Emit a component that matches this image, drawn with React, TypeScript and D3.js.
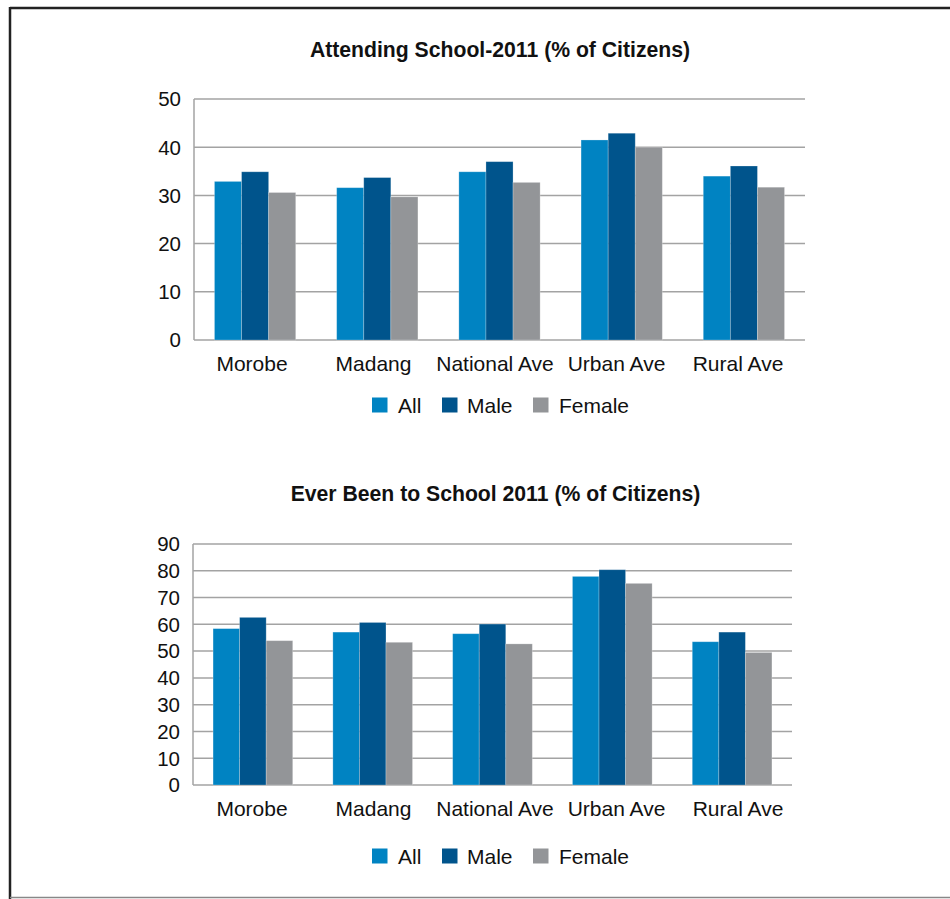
import React from "react";
import * as d3 from "d3";

const categories = ["Morobe", "Madang", "National Ave", "Urban Ave", "Rural Ave"];
const seriesNames = ["All", "Male", "Female"];
const seriesColors = ["#0083c2", "#00548c", "#939598"];

const attendingAll = [32.9, 31.6, 34.9, 41.5, 34.0];
const attendingMale = [34.9, 33.7, 37.0, 42.9, 36.1];
const attendingFemale = [30.6, 29.7, 32.7, 40.0, 31.7];
const attendingTicks = [0, 10, 20, 30, 40, 50];

const everAll = [58.4, 57.1, 56.5, 77.9, 53.5];
const everMale = [62.6, 60.7, 60.1, 80.4, 57.1];
const everFemale = [53.9, 53.3, 52.7, 75.3, 49.5];
const everTicks = [0, 10, 20, 30, 40, 50, 60, 70, 80, 90];

const FONT = "'Liberation Sans', Arial, Helvetica, sans-serif";

type PanelProps = {
  title: string;
  titleX: number;
  titleY: number;
  x0: number;
  x1: number;
  yTop: number;
  yBottom: number;
  yMax: number;
  ticks: number[];
  series: number[][];
  legendY: number;
};

function Panel(p: PanelProps) {
  const x = d3
    .scaleBand<string>()
    .domain(categories)
    .range([p.x0, p.x1])
    .paddingInner(0.335)
    .paddingOuter(0.1675);
  const xLabel = d3.scalePoint<string>().domain(categories).range([191.25, 798.75]).padding(0.5);
  const xs = d3.scaleBand<string>().domain(seriesNames).range([0, x.bandwidth()]).padding(0);
  const y = d3.scaleLinear().domain([0, p.yMax]).range([p.yBottom, p.yTop]);

  const legendItems = [
    { sq: 372, tx: 398 },
    { sq: 442, tx: 467 },
    { sq: 533, tx: 559 },
  ];

  return (
    <g>
      <text
        x={p.titleX}
        y={p.titleY}
        textAnchor="middle"
        fontFamily={FONT}
        fontWeight="bold"
        fontSize={21.2}
        fill="#111"
      >
        {p.title}
      </text>
      {p.ticks.map((t) => (
        <g key={t}>
          <line x1={p.x0} x2={p.x1} y1={y(t)} y2={y(t)} stroke="#a3a3a3" strokeWidth={1.5} />
          <text
            x={p.x0 - 13}
            y={y(t)}
            dy="0.36em"
            textAnchor="end"
            fontFamily={FONT}
            fontSize={20.5}
            fill="#111"
          >
            {t}
          </text>
        </g>
      ))}
      <line x1={p.x0} x2={p.x0} y1={p.yTop} y2={p.yBottom} stroke="#a3a3a3" strokeWidth={1.5} />
      {categories.map((c, i) => (
        <g key={c}>
          {seriesNames.map((s, j) => (
            <rect
              key={s}
              x={(x(c) ?? 0) + (xs(s) ?? 0)}
              y={y(p.series[j][i])}
              width={xs.bandwidth()}
              height={y(0) - y(p.series[j][i])}
              fill={seriesColors[j]}
              stroke="rgba(255,255,255,0.3)"
              strokeWidth={0.8}
            />
          ))}
          <text
            x={xLabel(c) ?? 0}
            y={p.yBottom + 31}
            textAnchor="middle"
            fontFamily={FONT}
            fontSize={21}
            fill="#111"
          >
            {c}
          </text>
        </g>
      ))}
      {seriesNames.map((s, j) => (
        <g key={s}>
          <rect x={legendItems[j].sq} y={p.legendY - 7.5} width={15.5} height={15} fill={seriesColors[j]} />
          <text
            x={legendItems[j].tx}
            y={p.legendY}
            dy="0.36em"
            fontFamily={FONT}
            fontSize={21}
            fill="#111"
          >
            {s}
          </text>
        </g>
      ))}
    </g>
  );
}

export default function App() {
  return (
    <svg
      width={950}
      height={899}
      style={{ position: "absolute", left: 0, top: 0, background: "#fff" }}
    >
      <rect x={0} y={0} width={950} height={899} fill="#fff" />
      <line x1={10} x2={950} y1={8} y2={8} stroke="#222" strokeWidth={2.5} />
      <line x1={10} x2={10} y1={7} y2={899} stroke="#222" strokeWidth={2.5} />
      <line x1={10} x2={950} y1={897.5} y2={897.5} stroke="#888" strokeWidth={1.5} />
      <Panel
        title="Attending School-2011 (% of Citizens)"
        titleX={500}
        titleY={57}
        x0={194}
        x1={805}
        yTop={99}
        yBottom={340}
        yMax={50}
        ticks={attendingTicks}
        series={[attendingAll, attendingMale, attendingFemale]}
        legendY={405}
      />
      <Panel
        title="Ever Been to School 2011 (% of Citizens)"
        titleX={495.5}
        titleY={501}
        x0={193}
        x1={792}
        yTop={544}
        yBottom={785}
        yMax={90}
        ticks={everTicks}
        series={[everAll, everMale, everFemale]}
        legendY={856}
      />
    </svg>
  );
}
